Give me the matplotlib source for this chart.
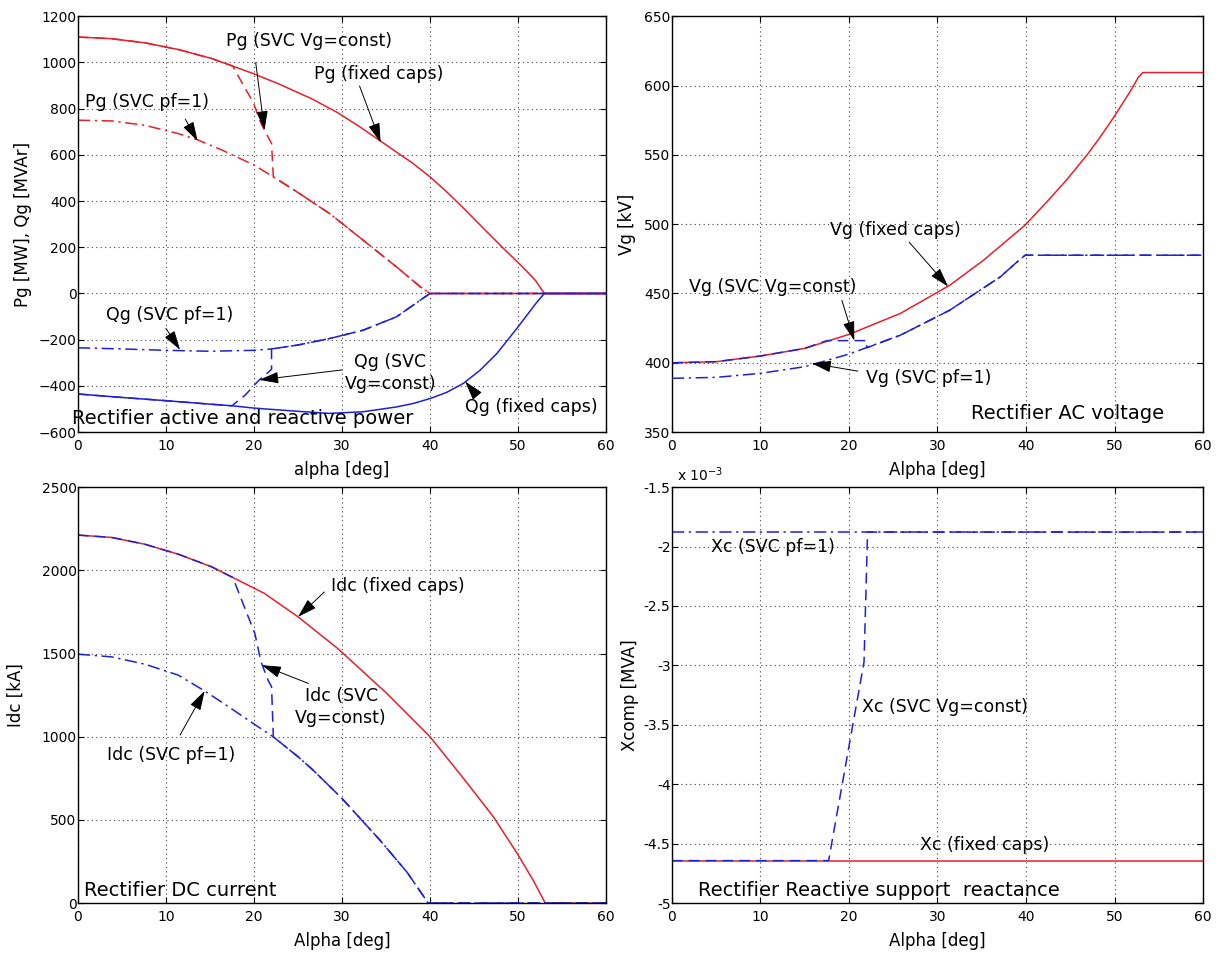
import numpy as np
import matplotlib.pyplot as plt
from matplotlib.ticker import FuncFormatter

# ---- rectifier active / reactive power (top left) ----
alpha_pg_fix = [0, 3.8, 7.6, 11.4, 15.2, 17.6, 19.9, 22.7, 26.5, 29.5, 32, 34.3, 36.2, 38,
                40, 41.9, 43.8, 46, 48.3, 50.6, 52, 53, 60]
pg_fix = [1110, 1103, 1085, 1056, 1017, 984, 952, 909, 844, 783, 722, 662, 612, 565,
          505, 440, 370, 285, 197, 112, 56, 0, 0]
alpha_qg_fix = [0, 5, 10, 15, 17.5, 20, 25, 28.6, 32.4, 36.2, 38.1, 40, 41.9, 43.8,
                45.7, 47.6, 49.9, 52.1, 53, 60]
qg_fix = [-435, -450, -464, -479, -486, -496, -510, -519, -512, -491, -476, -455, -428, -389,
          -332, -260, -150, -40, 0, 0]

alpha_pg_pf = [0, 3.8, 7.6, 11.4, 13.6, 16.3, 19.9, 22.2, 24.6, 28.6, 32.4, 36.2, 38.9, 40, 60]
pg_pf = [750, 747, 728, 692, 665, 622, 558, 505, 447, 346, 231, 115, 29, 0, 0]
alpha_qg_pf = [0, 5, 10, 15, 20, 22, 25, 28.6, 32.4, 36.2, 38.9, 40, 60]
qg_pf = [-235, -240, -246, -250, -246, -240, -223, -195, -159, -101, -29, 0, 0]

alpha_pg_vc = [0, 3.8, 7.6, 11.4, 15.2, 17.6, 18.9, 19.9, 20.8, 21.4, 22.0, 22.2, 24.6,
               28.6, 32.4, 36.2, 38.9, 40, 60]
pg_vc = [1110, 1103, 1085, 1056, 1017, 984, 894, 829, 736, 692, 649, 505, 447,
         346, 231, 115, 29, 0, 0]
alpha_qg_vc = [0, 5, 10, 15, 17.5, 19, 20.5, 21.5, 22, 22, 25, 28.6, 32.4, 36.2, 38.9, 40, 60]
qg_vc = [-435, -450, -464, -479, -486, -440, -378, -345, -328, -240, -223, -195, -159, -101,
         -29, 0, 0]

# ---- rectifier AC voltage (top right) ----
alpha_vg_fix = [0, 5, 10, 15, 20, 25.8, 31.4, 35.2, 39.9, 42.7, 44.6, 46.9, 48.4, 49.9,
                51.8, 52.7, 53.2, 60]
vg_fix = [400, 400.8, 404.9, 410.4, 420.5, 435.6, 456, 474, 499.3, 518.5, 532, 550, 563,
          577, 596, 606, 609.4, 609.4]
alpha_vg_pf = [0, 5, 10, 15, 20, 25.8, 31.4, 37.1, 38.8, 39.9, 60]
vg_pf = [388.8, 389.5, 392.4, 397.2, 406.3, 419.9, 438, 462, 471.7, 477.6, 477.6]
alpha_vg_vc = [0, 5, 10, 15, 17.5, 22, 22, 25.8, 31.4, 37.1, 38.8, 39.9, 60]
vg_vc = [400, 400.8, 404.9, 410.4, 416, 416, 410.8, 419.9, 438, 462, 471.7, 477.6, 477.6]

# ---- rectifier DC current (bottom left) ----
alpha_idc_fix = [0, 3.8, 7.6, 11.4, 15.2, 17.6, 21.2, 25, 29.5, 35, 40, 43.8, 47.2,
                 49.9, 51.7, 53.1, 60]
idc_fix = [2212, 2198, 2157, 2097, 2021, 1957, 1861, 1721, 1531, 1265, 1000, 750, 519,
           299, 140, 0, 0]
alpha_idc_pf = [0, 3.8, 7.6, 11.4, 14.4, 17.4, 19.9, 22.2, 23, 25, 26.7, 30, 34.3, 37.4, 39.8, 60]
idc_pf = [1496, 1480, 1436, 1370, 1275, 1170, 1080, 999, 965, 880, 800, 629, 379, 185, 0, 0]
alpha_idc_vc = [0, 3.8, 7.6, 11.4, 15.2, 17.6, 18.9, 20.1, 20.8, 21.6, 22.0, 22.2, 23, 25,
                26.7, 30, 34.3, 37.4, 39.8, 60]
idc_vc = [2212, 2198, 2157, 2097, 2021, 1957, 1781, 1621, 1450, 1340, 1300, 999, 965, 880,
          800, 629, 379, 185, 0, 0]

# ---- reactive support reactance (bottom right) ----
alpha_xc = [0, 60]
xc_fix = [-4.643e-3, -4.643e-3]
xc_pf = [-1.878e-3, -1.878e-3]
alpha_xc_vc = [0, 17.7, 21.7, 22.1, 60]
xc_vc = [-4.643e-3, -4.643e-3, -2.97e-3, -1.878e-3, -1.878e-3]

RED = '#e8202c'
BLUE = '#2020d8'
DASH = (0, (7, 4))
DASHDOT = (0, (8, 3, 1.5, 3))

fig = plt.figure(figsize=(12.18, 9.56), dpi=100)
ax1 = fig.add_axes([0.064, 0.548, 0.4335, 0.435])
ax2 = fig.add_axes([0.5517, 0.548, 0.436, 0.435])
ax3 = fig.add_axes([0.064, 0.0554, 0.4335, 0.435])
ax4 = fig.add_axes([0.5517, 0.0554, 0.436, 0.435])


def style(ax, ylim, yticks, xlabel, ylabel, ylab_x):
    ax.set_xlim(0, 60)
    ax.set_ylim(*ylim)
    ax.set_xticks(np.arange(0, 61, 10))
    ax.set_yticks(yticks)
    ax.grid(True, color='#444444', linestyle=(0, (1, 3)), lw=0.8)
    ax.tick_params(direction='in', top=True, right=True, length=4,
                   labelsize=10, width=0.8)
    ax.tick_params(axis='y', pad=1)
    ax.tick_params(axis='x', pad=5)
    for s in ax.spines.values():
        s.set_linewidth(1.0)
    ax.set_xlabel(xlabel, fontsize=12)
    ax.set_ylabel(ylabel, fontsize=12)
    ax.xaxis.set_label_coords(0.5, -0.07)
    ax.yaxis.set_label_coords(ylab_x, 0.5)


def notes(ax, texts, arrows, title):
    for t, x, y in texts:
        if '\n' in t:
            ax.text(x, y, t, fontsize=12.5, ha='center', va='center',
                    multialignment='center', linespacing=1.3)
        else:
            ax.text(x, y, t, fontsize=12.5, ha='left', va='center')
    for start, tip in arrows:
        ax.annotate('', xy=tip, xytext=start,
                    arrowprops=dict(arrowstyle='-|>,head_length=1.0,head_width=0.3',
                                    color='k', lw=0.7, shrinkA=0, shrinkB=0,
                                    mutation_scale=12))
    ax.text(title[1], title[2], title[0], fontsize=14, ha='left', va='center')


# top left
ax1.plot(alpha_pg_fix, pg_fix, '-', color=RED, lw=1.1)
ax1.plot(alpha_pg_pf, pg_pf, linestyle=DASHDOT, color=RED, lw=1.1)
ax1.plot(alpha_pg_vc, pg_vc, linestyle=DASH, color=RED, lw=1.1)
ax1.plot(alpha_qg_fix, qg_fix, '-', color=BLUE, lw=1.1)
ax1.plot(alpha_qg_pf, qg_pf, linestyle=DASHDOT, color=BLUE, lw=1.1)
ax1.plot(alpha_qg_vc, qg_vc, linestyle=DASH, color=BLUE, lw=1.1)
style(ax1, (-600, 1200), np.arange(-600, 1201, 200), "alpha [deg]",
      "Pg [MW], Qg [MVAr]", -0.087)
notes(ax1,
      [("Pg (SVC Vg=const)", 16.8, 1095), ("Pg (fixed caps)", 26.8, 949),
       ("Pg (SVC pf=1)", 0.8, 827), ("Qg (SVC pf=1)", 3.2, -93),
       ("Qg (fixed caps)", 44, -492), ("Qg (SVC\nVg=const)", 35.5, -343)],
      [((20.2, 999), (21.2, 707)), ((32, 898), (34.4, 654)),
       ((12.2, 755), (13.6, 660)), ((10, -151), (11.6, -244)),
       ((30, -331), (20.6, -374)), ((45.1, -431), (44, -381))],
      ("Rectifier active and reactive power", -0.7, -539))

# top right
ax2.plot(alpha_vg_fix, vg_fix, '-', color=RED, lw=1.1)
ax2.plot(alpha_vg_pf, vg_pf, linestyle=DASHDOT, color=BLUE, lw=1.1)
ax2.plot(alpha_vg_vc, vg_vc, linestyle=DASH, color=BLUE, lw=1.1)
style(ax2, (350, 650), np.arange(350, 651, 50), "Alpha [deg]", "Vg [kV]", -0.068)
notes(ax2,
      [("Vg (fixed caps)", 17.9, 496), ("Vg (SVC Vg=const)", 1.9, 455),
       ("Vg (SVC pf=1)", 21.9, 388.8)],
      [((26.8, 487), (31.2, 455)), ((19.2, 445), (20.6, 416)),
       ((21.0, 394), (15.8, 399.6))],
      ("Rectifier AC voltage", 33.8, 363.7))

# bottom left
ax3.plot(alpha_idc_fix, idc_fix, '-', color=RED, lw=1.1)
ax3.plot(alpha_idc_pf, idc_pf, linestyle=DASHDOT, color=BLUE, lw=1.1)
ax3.plot(alpha_idc_vc, idc_vc, linestyle=DASH, color=BLUE, lw=1.1)
style(ax3, (0, 2500), np.arange(0, 2501, 500), "Alpha [deg]", "Idc [kA]", -0.1)
notes(ax3,
      [("Idc (fixed caps)", 28.7, 1904), ("Idc (SVC\nVg=const)", 29.9, 1180),
       ("Idc (SVC pf=1)", 3.3, 890)],
      [((28, 1870), (25, 1720)), ((26.2, 1320), (20.9, 1430)),
       ((11.6, 1010), (14.4, 1275))],
      ("Rectifier DC current", 0.7, 76))

# bottom right
ax4.plot(alpha_xc, xc_fix, '-', color=RED, lw=1.1)
ax4.plot(alpha_xc, xc_pf, linestyle=DASHDOT, color=BLUE, lw=1.1)
ax4.plot(alpha_xc_vc, xc_vc, linestyle=DASH, color=BLUE, lw=1.1)
style(ax4, (-5e-3, -1.5e-3), np.arange(-5e-3, -1.49e-3, 0.5e-3), "Alpha [deg]",
      "Xcomp [MVA]", -0.062)
ax4.yaxis.set_major_formatter(FuncFormatter(lambda v, p: '%g' % round(v * 1e3, 2)))
ax4.text(0.01, 1.015, r'x 10$^{-3}$', transform=ax4.transAxes, fontsize=10,
         va='baseline', ha='left')
notes(ax4,
      [("Xc (SVC pf=1)", 4.4, -2.0e-3), ("Xc (SVC Vg=const)", 21.5, -3.35e-3),
       ("Xc (fixed caps)", 28, -4.51e-3)],
      [],
      ("Rectifier Reactive support  reactance", 2.9, -4.895e-3))

plt.savefig("out.png", dpi=100)
